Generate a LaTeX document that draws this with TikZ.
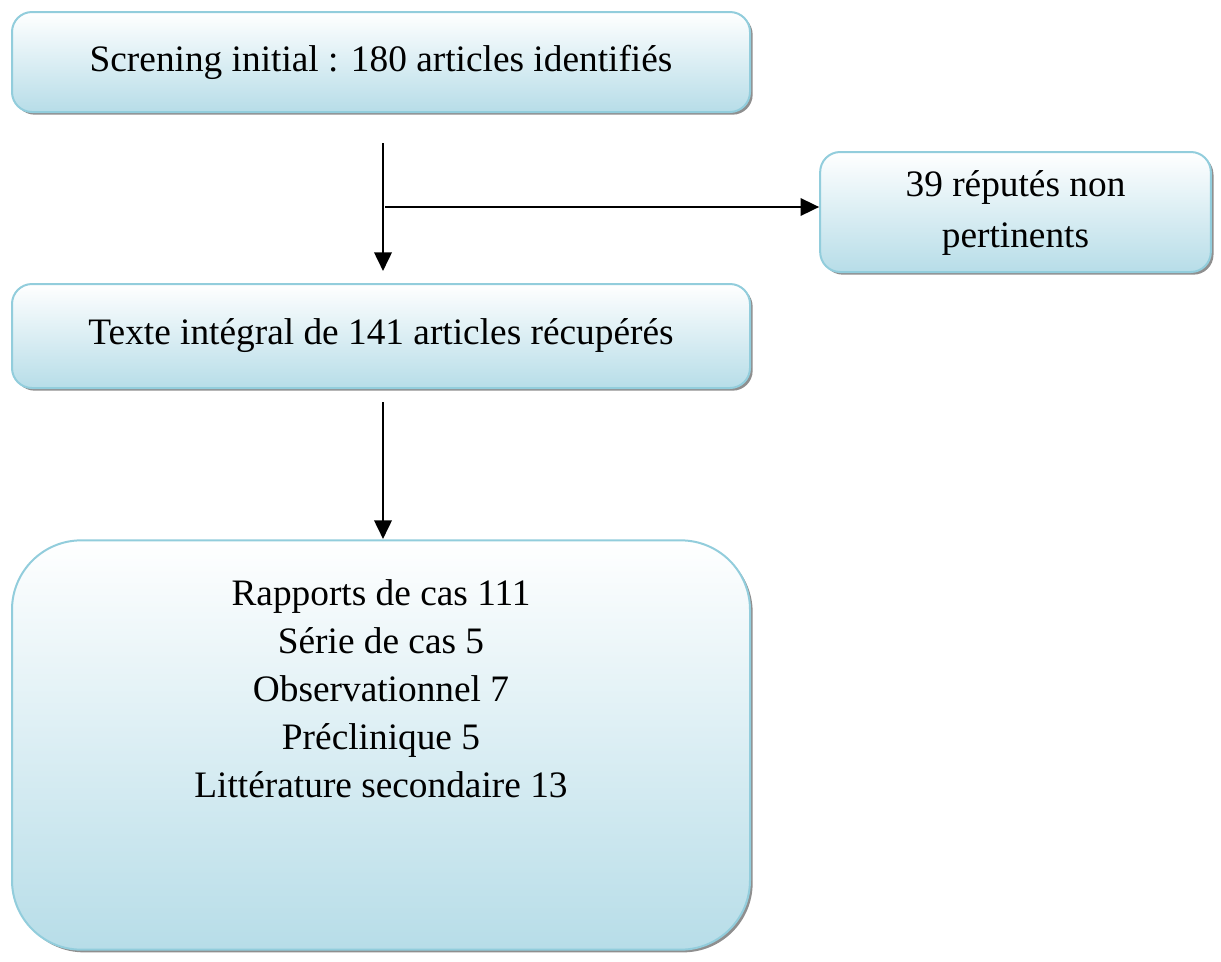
\documentclass[tikz,border=0pt]{standalone}
\usepackage{fontspec}
\setmainfont{Liberation Serif}
\usetikzlibrary{arrows.meta,shadows}
\definecolor{boxedge}{RGB}{146,205,220}
\definecolor{boxbot}{RGB}{183,221,232}
\begin{document}
\begin{tikzpicture}[x=0.75pt,y=-0.75pt,
  flowbox/.style={draw=boxedge,line width=1.5pt,rounded corners=15pt,
    top color=white,bottom color=boxbot,
    drop shadow={shadow xshift=2pt,shadow yshift=-2pt,fill=black!55,opacity=0.8},
    inner sep=0pt,align=center,font=\fontsize{28}{37.5}\selectfont},
  conn/.style={line width=2pt,-{Triangle[length=14pt,width=13pt]}},
  txt/.style={align=center,font=\fontsize{28}{36}\selectfont,inner sep=0pt}]
\useasboundingbox (0,0) rectangle (1221,961);
\node[flowbox,minimum width=553.5pt,minimum height=75pt] (b1) at (381,62) {\raisebox{-2pt}{Screning initial : 180 articles identifiés}};
\node[flowbox,minimum width=293pt,minimum height=90pt] (b2) at (1015.5,212) {\raisebox{-3pt}{\begin{tabular}{@{}c@{}}39 réputés non\\[1pt]pertinents\end{tabular}}};
\node[flowbox,minimum width=553.5pt,minimum height=78pt] (b3) at (381,336) {\raisebox{-2pt}{Texte intégral de 141 articles récupérés}};
\node[flowbox,rounded corners=52pt,minimum width=553.5pt,minimum height=307pt] (b4) at (381,745) {};
\node[txt] (list) at (381,689) {Rapports de cas 111\\Série de cas 5\\Observationnel 7\\Préclinique 5\\Littérature secondaire 13};
\coordinate (v1s) at (383,143);
\coordinate (v1e) at (383,271);
\coordinate (h1) at (385,207);
\coordinate (v2s) at (383,402);
\coordinate (v2e) at (383,539);
\draw[conn] (v1s) -- (v1e);
\draw[conn] (h1) -- (h1 -| b2.west);
\draw[conn] (v2s) -- (v2e);
\end{tikzpicture}
\end{document}
